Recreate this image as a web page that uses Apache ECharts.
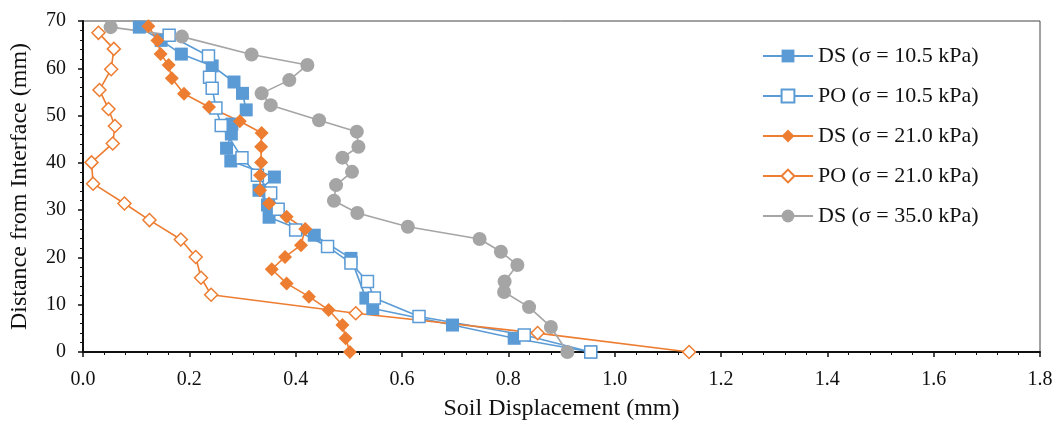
<!DOCTYPE html>
<html>
<head>
<meta charset="utf-8">
<script src="https://cdn.jsdelivr.net/npm/echarts@6/dist/echarts.min.js"></script>
<style>
  html, body { margin: 0; padding: 0; background: #fff; }
  #chart { width: 1057px; height: 427px; }
</style>
</head>
<body>
<div id="chart"></div>
<script>
// values: displacement (mm) and distance from interface (mm)
const ds105Disp = [0.106, 0.147, 0.185, 0.243, 0.284, 0.300, 0.307, 0.280, 0.279, 0.270, 0.278, 0.360, 0.331, 0.347, 0.350, 0.435, 0.504, 0.532, 0.545, 0.695, 0.811, 0.955]
const ds105Dist = [68.7, 65.9, 63.0, 60.5, 57.1, 54.7, 51.2, 48.2, 46.1, 43.1, 40.4, 37.0, 34.2, 31.1, 28.5, 24.7, 19.8, 11.4, 9.2, 5.7, 2.9, 0]

const po105Disp = [0.162, 0.236, 0.238, 0.243, 0.250, 0.260, 0.299, 0.328, 0.353, 0.367, 0.400, 0.460, 0.504, 0.535, 0.548, 0.632, 0.830, 0.955]
const po105Dist = [67.0, 62.6, 58.1, 55.8, 51.6, 47.9, 41.1, 37.4, 33.6, 30.2, 25.8, 22.3, 18.8, 14.9, 11.4, 7.5, 3.6, 0]

const ds210Disp = [0.123, 0.140, 0.146, 0.161, 0.167, 0.190, 0.237, 0.295, 0.336, 0.335, 0.335, 0.333, 0.333, 0.350, 0.383, 0.418, 0.410, 0.380, 0.355, 0.383, 0.425, 0.462, 0.488, 0.494, 0.502]
const ds210Dist = [68.9, 65.9, 63.0, 60.7, 57.9, 54.6, 51.8, 48.8, 46.3, 43.4, 40.1, 37.4, 34.2, 31.4, 28.6, 26.0, 22.6, 20.1, 17.5, 14.5, 11.7, 8.9, 5.7, 2.9, 0]

const po210Disp = [0.029, 0.058, 0.053, 0.031, 0.048, 0.060, 0.056, 0.016, 0.019, 0.078, 0.125, 0.184, 0.212, 0.222, 0.241, 0.513, 0.855, 1.140]
const po210Dist = [67.5, 64.1, 59.8, 55.4, 51.4, 47.8, 44.1, 40.1, 35.6, 31.4, 27.9, 23.8, 20.1, 15.7, 12.1, 8.2, 4.0, 0]

const ds350Disp = [0.052, 0.186, 0.317, 0.422, 0.388, 0.336, 0.353, 0.444, 0.515, 0.518, 0.488, 0.506, 0.476, 0.472, 0.516, 0.611, 0.746, 0.786, 0.817, 0.793, 0.792, 0.839, 0.880, 0.911]
const ds350Dist = [68.7, 66.7, 62.9, 60.7, 57.5, 54.7, 52.2, 49.0, 46.6, 43.4, 41.1, 38.1, 35.3, 32.0, 29.4, 26.5, 23.9, 21.2, 18.4, 14.9, 12.7, 9.5, 5.3, 0]

const seriesNames = ['DS (σ = 10.5 kPa)', 'PO (σ = 10.5 kPa)', 'DS (σ = 21.0 kPa)', 'PO (σ = 21.0 kPa)', 'DS (σ = 35.0 kPa)']

const blue = '#5B9BD5'
const orange = '#ED7D31'
const gray = '#A5A5A5'
const font = "'Liberation Serif', 'DejaVu Serif', serif"

const pairs = (xs, ys) => xs.map((x, i) => [x, ys[i]])

const makeSeries = (name, data, color, symbol, size, hollow) => ({
  name: name,
  type: 'line',
  data: data,
  symbol: symbol,
  symbolSize: size,
  clip: false,
  lineStyle: { color: color, width: 1.6 },
  itemStyle: hollow
    ? { color: '#fff', borderColor: color, borderWidth: 1.5 }
    : { color: color, borderWidth: 0 }
})

const option = {
  animation: false,
  grid: {
    left: 82, right: 17, top: 21, bottom: 75,
    show: true, borderColor: '#444', borderWidth: 1
  },
  legend: {
    orient: 'vertical',
    left: 757,
    top: 40,
    itemWidth: 50,
    itemHeight: 16,
    itemGap: 18,
    textStyle: { fontFamily: font, fontSize: 22, color: '#111' },
    data: seriesNames
  },
  xAxis: {
    type: 'value',
    min: 0, max: 1.8, interval: 0.2,
    name: 'Soil Displacement (mm)',
    nameLocation: 'middle',
    nameGap: 45,
    nameTextStyle: { fontFamily: font, fontSize: 24, color: '#111' },
    axisLine: { onZero: false, lineStyle: { color: '#111', width: 2 } },
    axisTick: { show: true, length: 5, lineStyle: { color: '#111', width: 1.5 } },
    minorTick: { show: true, splitNumber: 5, length: 3, lineStyle: { color: '#111' } },
    splitLine: { show: false },
    axisLabel: {
      fontFamily: font, fontSize: 20, color: '#111', margin: 18,
      formatter: v => v.toFixed(1)
    }
  },
  yAxis: {
    type: 'value',
    min: 0, max: 70, interval: 10,
    name: 'Distance from Interface (mm)',
    nameLocation: 'middle',
    nameGap: 51,
    nameTextStyle: { fontFamily: font, fontSize: 24, color: '#111' },
    axisLine: { onZero: false, lineStyle: { color: '#111', width: 2 } },
    axisTick: { show: true, length: 5, lineStyle: { color: '#111', width: 1.5 } },
    minorTick: { show: true, splitNumber: 5, length: 3, lineStyle: { color: '#111' } },
    splitLine: { show: false },
    axisLabel: { fontFamily: font, fontSize: 20, color: '#111', margin: 17 }
  },
  series: [
    makeSeries(seriesNames[0], pairs(ds105Disp, ds105Dist), blue, 'rect', 13, false),
    makeSeries(seriesNames[1], pairs(po105Disp, po105Dist), blue, 'rect', 12, true),
    makeSeries(seriesNames[2], pairs(ds210Disp, ds210Dist), orange, 'diamond', 14, false),
    makeSeries(seriesNames[3], pairs(po210Disp, po210Dist), orange, 'diamond', 13, true),
    makeSeries(seriesNames[4], pairs(ds350Disp, ds350Dist), gray, 'circle', 14, false)
  ]
}

const chart = echarts.init(document.getElementById('chart'))
chart.setOption(option)
</script>
</body>
</html>
